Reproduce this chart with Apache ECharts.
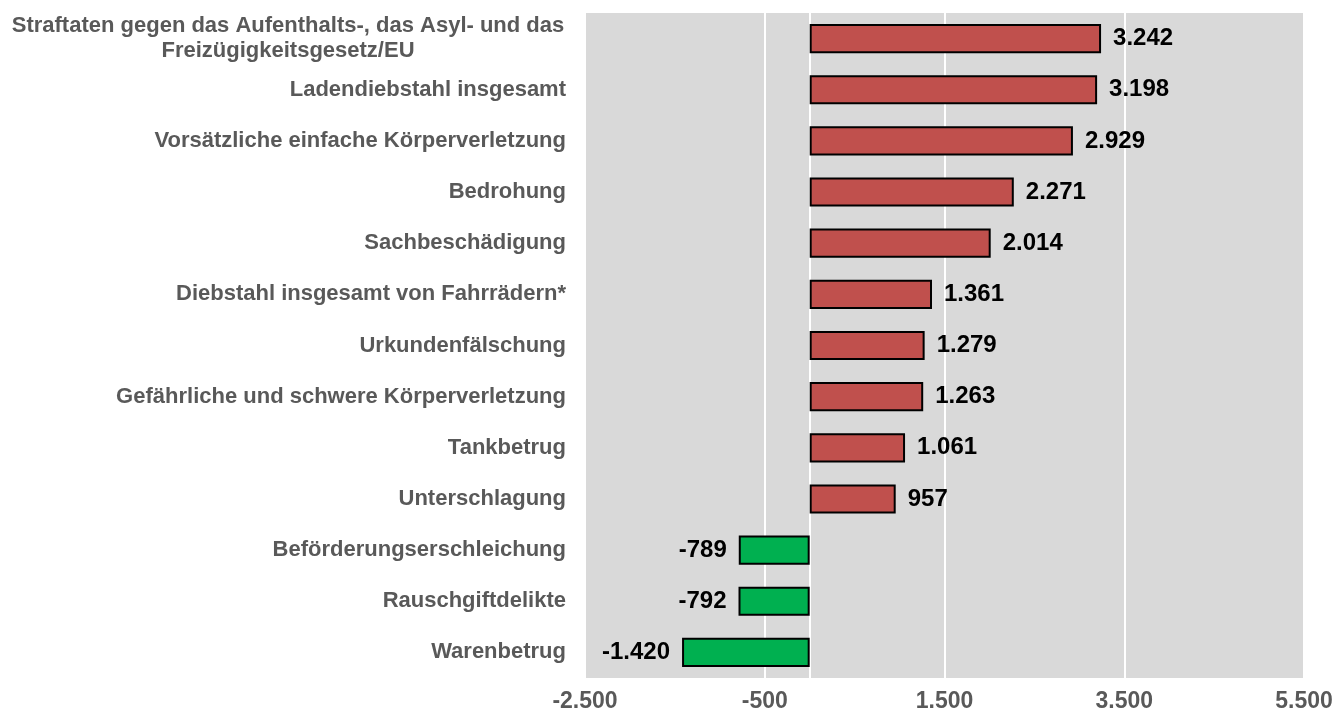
<!DOCTYPE html>
<html>
<head>
<meta charset="utf-8">
<script src="https://cdn.jsdelivr.net/npm/echarts@6/dist/echarts.min.js"></script>
<style>
  html, body { margin: 0; padding: 0; background: #fff; }
  #chart { width: 1340px; height: 716px; }
</style>
</head>
<body>
<div id="chart"></div>
<script>
// Kategorien (von oben nach unten)
const categories = [
  "Straftaten gegen das Aufenthalts-, das Asyl- und das\nFreizügigkeitsgesetz/EU",
  "Ladendiebstahl insgesamt",
  "Vorsätzliche einfache Körperverletzung",
  "Bedrohung",
  "Sachbeschädigung",
  "Diebstahl insgesamt von Fahrrädern*",
  "Urkundenfälschung",
  "Gefährliche und schwere Körperverletzung",
  "Tankbetrug",
  "Unterschlagung",
  "Beförderungserschleichung",
  "Rauschgiftdelikte",
  "Warenbetrug",
];
// Veränderung
const values = [3242, 3198, 2929, 2271, 2014, 1361, 1279, 1263, 1061, 957, -789, -792, -1420];
const xTicks = [-2500, -500, 1500, 3500, 5500];

const fmt = v => {
  const s = Math.abs(v).toString().replace(/\B(?=(\d{3})+(?!\d))/g, ".");
  return (v < 0 ? "-" : "") + s;
};

const chart = echarts.init(document.getElementById("chart"));

const catData = categories.map((c, i) => {
  if (i === 0) {
    // zweizeiliges Label, Zeilen zentriert
    return { value: c, textStyle: { align: "center", padding: [0, 556, 0, 0] } };
  }
  return c;
});

const barData = values.map(v => ({
  value: v,
  itemStyle: { color: v < 0 ? "#00B050" : "#C0504D" },
  label: { position: v < 0 ? "left" : "right" },
}));

const option = {
  animation: false,
  grid: {
    left: 585,
    right: 36,
    top: 13,
    bottom: 38,
    show: true,
    backgroundColor: "#D9D9D9",
    borderWidth: 0,
  },
  xAxis: {
    type: "value",
    min: xTicks[0],
    max: xTicks[xTicks.length - 1],
    interval: 2000,
    axisLine: { show: false },
    axisTick: { show: false },
    splitLine: { show: true, lineStyle: { color: "#FFFFFF", width: 2 } },
    axisLabel: {
      formatter: v => fmt(v),
      color: "#595959",
      fontFamily: "Liberation Sans, Arial, sans-serif",
      fontWeight: "bold",
      fontSize: 23,
      margin: 12,
    },
  },
  yAxis: {
    type: "category",
    inverse: true,
    data: catData,
    axisLine: { show: true, onZero: true, lineStyle: { color: "#FFFFFF", width: 2 } },
    axisTick: { show: false },
    axisLabel: {
      color: "#595959",
      fontFamily: "Liberation Sans, Arial, sans-serif",
      fontWeight: "bold",
      fontSize: 22,
      margin: 19,
      lineHeight: 25,
    },
  },
  series: [
    {
      type: "bar",
      data: barData,
      barCategoryGap: "43%",
      itemStyle: { borderColor: "#000000", borderWidth: 2 },
      label: {
        show: true,
        formatter: p => fmt(p.value),
        color: "#000000",
        fontFamily: "Liberation Sans, Arial, sans-serif",
        fontWeight: "bold",
        fontSize: 24,
        distance: 12,
      },
    },
  ],
};

chart.setOption(option);
</script>
</body>
</html>
